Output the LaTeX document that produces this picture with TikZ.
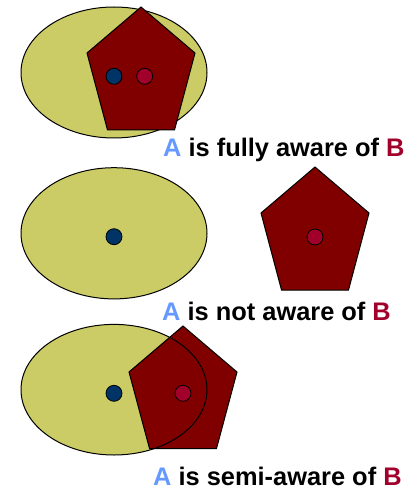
\documentclass[tikz,border=0pt]{standalone}
\usepackage{fontspec}
\setmainfont{Liberation Sans}
\definecolor{setA}{HTML}{CCCC66}
\definecolor{setB}{HTML}{800000}
\definecolor{dotA}{HTML}{003366}
\definecolor{dotB}{HTML}{A0002A}
\definecolor{labA}{HTML}{6699FF}
\definecolor{labB}{HTML}{A0002A}
\tikzset{
  ellfill/.style={fill=setA},
  ellline/.style={draw=black, line width=1pt},
  pent/.style={fill=setB, draw=black, line width=1pt, line join=miter},
  dota/.style={circle, fill=dotA, draw=black, line width=0.8pt, minimum size=16pt, inner sep=0pt},
  dotb/.style={circle, fill=dotB, draw=black, line width=0.8pt, minimum size=16pt, inner sep=0pt},
  caption/.style={anchor=base west, inner sep=0pt, text depth=0pt, font=\fontsize{25.4pt}{28pt}\selectfont\bfseries}
}
\begin{document}
\begin{tikzpicture}[x=1pt, y=-1pt]
\useasboundingbox (0,0) rectangle (408,489);
% ---- panel 1: fully aware
\fill[ellfill] (114,72.5) ellipse [x radius=93, y radius=65.5];
\draw[ellline] (114,72.5) ellipse [x radius=93, y radius=65.5];
\draw[pent] (141,7) -- (195,53) -- (174.5,130) -- (107.5,130) -- (87,53) -- cycle;
\node[dota] (a1) at (114,76.3) {};
\node[dotb] (b1) at (144.7,76.3) {};
\node[caption] (t1) at (163,157) {\textcolor{labA}{A} is fully aware of \textcolor{labB}{B}};
% ---- panel 2: not aware
\fill[ellfill] (114,233.3) ellipse [x radius=93, y radius=65.6];
\draw[ellline] (114,233.3) ellipse [x radius=93, y radius=65.6];
\draw[pent] (315,167) -- (369,213) -- (348.5,290) -- (281.5,290) -- (261,213) -- cycle;
\node[dota] (a2) at (114,236.7) {};
\node[dotb] (b2) at (315,237) {};
\node[caption] (t2) at (162,320) {\textcolor{labA}{A} is not aware of \textcolor{labB}{B}};
% ---- panel 3: semi-aware
\fill[ellfill] (114,389.7) ellipse [x radius=93, y radius=65.3];
\draw[pent] (183,326) -- (237,372) -- (216.5,448.5) -- (149.5,448.5) -- (129,372) -- cycle;
\draw[ellline] (114,389.7) ellipse [x radius=93, y radius=65.3];
\node[dota] (a3) at (114,393.3) {};
\node[dotb] (b3) at (183,393.3) {};
\node[caption] (t3) at (153,485.5) {\textcolor{labA}{A} is semi-aware of \textcolor{labB}{B}};
\end{tikzpicture}
\end{document}
